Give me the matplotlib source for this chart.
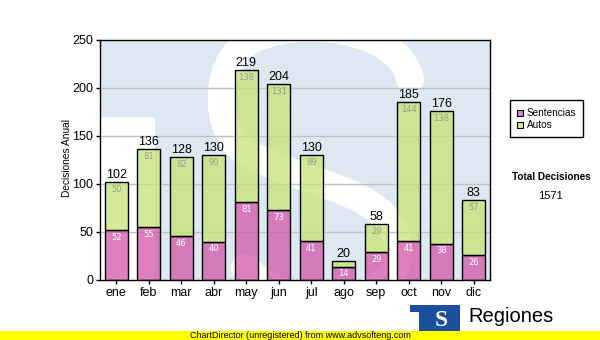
import numpy as np
import matplotlib.pyplot as plt
from matplotlib.patches import Rectangle

meses = ['ene', 'feb', 'mar', 'abr', 'may', 'jun', 'jul', 'ago', 'sep', 'oct', 'nov', 'dic']
sentencias = [52, 55, 46, 40, 81, 73, 41, 14, 29, 41, 38, 26]
autos = [50, 81, 82, 90, 138, 131, 89, 6, 29, 144, 138, 57]
yticks = [0, 50, 100, 150, 200, 250]
series = ['Sentencias', 'Autos']

totales = [s + a for s, a in zip(sentencias, autos)]
total_decisiones = sum(totales)

# semi-transparent fills so the watermark shows through the bars
rosa = (211 / 255, 86 / 255, 168 / 255, 0.75)
verde = (198 / 255, 228 / 255, 115 / 255, 0.75)
rosa_ley = '#de80c0'
verde_ley = '#d5ec96'

plt.rcParams['font.family'] = ['Liberation Sans', 'DejaVu Sans']

W, H = 600, 340
fig = plt.figure(figsize=(W / 100, H / 100), dpi=100)


def fx(x):
    return x / W


def fy(y):
    return 1 - y / H


# plot area in pixels: x 100..490, y 40..280
ax = fig.add_axes([fx(100), fy(280), 390 / W, 240 / H])
ax.set_facecolor('white')

# watermark "TS" logo in the plot background
px, py = np.meshgrid(np.arange(390) + 100.5, np.arange(240) + 40.5)
blanco = (px < 155) & (py > 118)


def bezier(p0, p1, p2, p3, n=80):
    t = np.linspace(0, 1, n)[:, None]
    p0, p1, p2, p3 = map(np.array, (p0, p1, p2, p3))
    return ((1 - t) ** 3) * p0 + 3 * ((1 - t) ** 2) * t * p1 + 3 * (1 - t) * t ** 2 * p2 + t ** 3 * p3


tramos = [
    ((410, 80), (400, 30), (300, 15), (250, 42)),
    ((250, 42), (212, 65), (212, 135), (250, 155)),
    ((250, 155), (290, 176), (340, 185), (372, 206)),
    ((372, 206), (420, 240), (400, 300), (330, 300)),
    ((330, 300), (290, 300), (262, 285), (245, 268)),
]
pts = np.vstack([bezier(*t) for t in tramos])
dmin = np.full(px.shape, 1e9)
for qx, qy in pts:
    dmin = np.minimum(dmin, (px - qx) ** 2 + (py - qy) ** 2)
blanco |= dmin < 14 ** 2

fondo = np.ones(px.shape + (3,))
fondo[~blanco] = np.array([222, 232, 242]) / 255
ax.imshow(fondo, extent=(-0.5, 11.5, 0, 250), origin='upper', aspect='auto',
          interpolation='bilinear', zorder=0.5)

for v in yticks[1:-1]:
    ax.axhline(v, color='#c0c0c0', linewidth=1.0, zorder=1)

x = np.arange(len(meses))
ax.bar(x, sentencias, width=0.7, color=rosa, edgecolor='black', linewidth=1.0, zorder=2)
ax.bar(x, autos, width=0.7, bottom=sentencias, color=verde, edgecolor='black',
       linewidth=1.0, zorder=2)

for i in x:
    ax.text(i, totales[i] + 1, str(totales[i]), ha='center', va='bottom',
            fontsize=9, color='black', zorder=3)
    if sentencias[i] >= 10:
        ax.text(i, sentencias[i] - 3, str(sentencias[i]), ha='center', va='top',
                fontsize=6, color='white', family='DejaVu Sans', zorder=3)
    if autos[i] >= 10:
        ax.text(i, totales[i] - 3, str(autos[i]), ha='center', va='top',
                fontsize=6, color='#9a9a9a', family='DejaVu Sans', zorder=3)

ax.set_xlim(-0.5, 11.5)
ax.set_ylim(0, 250)
ax.set_xticks(x)
ax.set_xticklabels(meses)
ax.set_yticks(yticks)
ax.tick_params(axis='both', direction='out', length=3, width=1, labelsize=9,
               color='black', pad=2)
for s in ax.spines.values():
    s.set_linewidth(1.0)
    s.set_color('black')
    s.set_zorder(4)

fig.text(fx(67), fy(158), 'Decisiones Anual', rotation=90, ha='center', va='center',
         fontsize=7.3)

# legend box
fig.patches.append(Rectangle((fx(510), fy(137)), 73 / W, 37 / H, transform=fig.transFigure,
                             facecolor='white', edgecolor='black', linewidth=1.0))
for k, (nombre, color) in enumerate(zip(series, [rosa_ley, verde_ley])):
    yc = 113 + k * 12
    fig.patches.append(Rectangle((fx(517), fy(yc + 3)), 6 / W, 6 / H,
                                 transform=fig.transFigure, facecolor=color,
                                 edgecolor='black', linewidth=0.8))
    fig.text(fx(527), fy(yc), nombre, ha='left', va='center', fontsize=7.2)

fig.text(fx(551), fy(177), 'Total Decisiones', ha='center', va='center', fontsize=7.2,
         fontweight='bold')
fig.text(fx(550), fy(196), str(total_decisiones), ha='center', va='center', fontsize=8)

# logo block
fig.patches.append(Rectangle((fx(410), fy(331)), 50 / W, 26 / H, transform=fig.transFigure,
                             facecolor='#1c4f9c', edgecolor='none'))
fig.patches.append(Rectangle((fx(410), fy(331)), 9 / W, 19 / H, transform=fig.transFigure,
                             facecolor='white', edgecolor='none'))
fig.text(fx(441), fy(320), 'S', ha='center', va='center', fontsize=17, color='white',
         fontweight='bold', family='Liberation Serif')
fig.text(fx(468), fy(316), 'Regiones', ha='left', va='center', fontsize=14.5)

# footer band
fig.patches.append(Rectangle((0, 0), 1, 9 / H, transform=fig.transFigure,
                             facecolor='#ffff00', edgecolor='none', zorder=5))
fig.text(0.5, fy(335.5), 'ChartDirector (unregistered) from www.advsofteng.com',
         ha='center', va='center', fontsize=6.5, zorder=6)

fig.savefig('out.png', dpi=100)
